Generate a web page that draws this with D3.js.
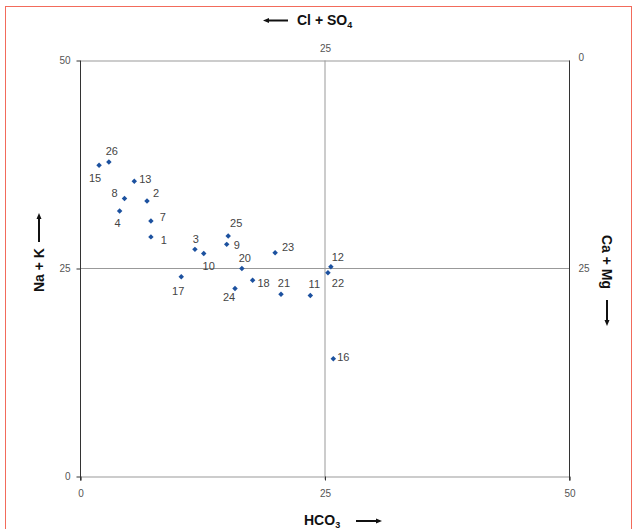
<!DOCTYPE html>
<html>
<head>
<meta charset="utf-8">
<script src="https://cdn.jsdelivr.net/npm/d3@7"></script>
<style>
	body { margin: 0; background: #fff; }
	svg { display: block; font-family: "Liberation Sans", Arial, sans-serif; }
	.axis text { font-size: 10px; fill: #555; }
	.title { font-size: 14px; font-weight: bold; fill: #111; }
	.ptlabel { font-size: 11px; fill: #444; }
</style>
</head>
<body>
<div id="chart"></div>
<script>
// sample numbers and their coordinates (meq %)
const sampleIds = [1, 2, 3, 4, 7, 8, 9, 10, 11, 12, 13, 15, 16, 17, 18, 20, 21, 22, 23, 24, 25, 26];
const hco3 = [7.2, 6.8, 11.7, 4.0, 7.2, 4.5, 14.95, 12.6, 23.5, 25.6, 5.5, 1.9, 25.85, 10.3, 17.6, 16.5, 20.5, 25.3, 19.9, 15.8, 15.1, 2.9];
const naK = [28.8, 33.1, 27.3, 31.9, 30.7, 33.4, 27.9, 26.8, 21.75, 25.2, 35.5, 37.4, 14.15, 24.0, 23.6, 25.0, 21.9, 24.5, 26.9, 22.6, 28.9, 37.8];
const bottomTicks = [0, 25, 50];
const leftTicks = [0, 25, 50];
const topTicks = [25];
const rightTicks = [0, 25];

// where each number sits relative to its point (px)
const labelOffset = {
	1: [13, 3], 2: [9, -8], 3: [1, -10], 4: [-2, 12], 7: [12, -4], 8: [-10, -5],
	9: [10, 1], 10: [5, 13], 11: [4, -11], 12: [7, -10], 13: [11, -2], 15: [-4, 13],
	16: [10, -2], 17: [-3, 14], 18: [11, 3], 20: [3, -10], 21: [3, -11], 22: [10, 10],
	23: [13, -6], 24: [-6, 9], 25: [8, -13], 26: [3, -11]
};

const width = 638, height = 529;
const svg = d3.select("#chart").append("svg")
	.attr("width", width)
	.attr("height", height);

// red frame
svg.append("rect")
	.attr("x", 5.5).attr("y", 6.5)
	.attr("width", 626).attr("height", 540)
	.attr("fill", "none")
	.attr("stroke", "#f26b5b")
	.attr("stroke-width", 1);

const x = d3.scaleLinear().domain([0, 50]).range([80.5, 569.5]);
const y = d3.scaleLinear().domain([0, 50]).range([476.5, 60.5]);
const xTop = d3.scaleLinear().domain([50, 0]).range([80.5, 569.5]);
const yRight = d3.scaleLinear().domain([0, 50]).range([60.5, 476.5]);

// centre cross
svg.append("line")
	.attr("x1", x(25)).attr("x2", x(25))
	.attr("y1", y(50)).attr("y2", y(0) + 3)
	.attr("stroke", "#999");
svg.append("line")
	.attr("x1", x(0)).attr("x2", x(50))
	.attr("y1", y(25)).attr("y2", y(25))
	.attr("stroke", "#999");

// top / bottom frame lines
const bottomAxis = svg.append("g").attr("class", "axis")
	.attr("transform", "translate(0," + y(0) + ")")
	.call(d3.axisBottom(x).tickValues(bottomTicks).tickSize(4).tickPadding(9));
bottomAxis.select(".domain").attr("stroke", "#999");
bottomAxis.selectAll(".tick line").attr("stroke", "#333");

const topAxis = svg.append("g").attr("class", "axis")
	.attr("transform", "translate(0," + y(50) + ")")
	.call(d3.axisTop(xTop).tickValues(topTicks).tickSize(0).tickPadding(9));
topAxis.select(".domain").attr("stroke", "#999");

const leftAxis = svg.append("g").attr("class", "axis")
	.attr("transform", "translate(" + x(0) + ",0)")
	.call(d3.axisLeft(y).tickValues(leftTicks).tickSize(4).tickPadding(6));
leftAxis.select(".domain").attr("stroke", "#333").attr("d", "M0," + y(50) + "V" + (y(0) + 4));
leftAxis.selectAll(".tick line").attr("stroke", "#333");

const rightAxis = svg.append("g").attr("class", "axis")
	.attr("transform", "translate(" + x(50) + ",0)")
	.call(d3.axisRight(yRight).tickValues(rightTicks).tickSize(0).tickPadding(9));
rightAxis.select(".domain").attr("stroke", "#333").attr("d", "M0," + y(50) + "V" + (y(0) + 4));
rightAxis.selectAll(".tick").filter(d => d === 0).select("text").attr("dy", "-0.05em");

svg.selectAll(".axis").attr("font-family", null).attr("font-size", null);

// points
const pts = sampleIds.map((id, i) => ({ id: id, hco3: hco3[i], naK: naK[i] }));
const diamond = d3.symbol().type(d3.symbolSquare).size(15);

svg.append("g").selectAll("path")
	.data(pts)
	.enter().append("path")
	.attr("d", diamond)
	.attr("fill", "#1c519f")
	.attr("transform", d => "translate(" + x(d.hco3) + "," + y(d.naK) + ") rotate(45)");

svg.append("g").selectAll("text")
	.data(pts)
	.enter().append("text")
	.attr("class", "ptlabel")
	.attr("x", d => x(d.hco3) + labelOffset[d.id][0])
	.attr("y", d => y(d.naK) + labelOffset[d.id][1])
	.attr("text-anchor", "middle")
	.attr("dy", "0.35em")
	.text(d => d.id);

// axis titles with arrows
function arrow(g, x1, y1, x2, y2) {
	const a = Math.atan2(y2 - y1, x2 - x1);
	const hl = 6, hw = 2.5;
	g.append("line")
		.attr("x1", x1).attr("y1", y1)
		.attr("x2", x2 - Math.cos(a) * hl).attr("y2", y2 - Math.sin(a) * hl)
		.attr("stroke", "#111").attr("stroke-width", 2);
	const bx = x2 - Math.cos(a) * hl, by = y2 - Math.sin(a) * hl;
	g.append("path")
		.attr("d", "M" + x2 + "," + y2 +
			"L" + (bx - Math.sin(a) * hw) + "," + (by + Math.cos(a) * hw) +
			"L" + (bx + Math.sin(a) * hw) + "," + (by - Math.cos(a) * hw) + "Z")
		.attr("fill", "#111");
}

const titles = svg.append("g");

// top: <- Cl + SO4
arrow(titles, 288, 20.5, 263, 20.5);
const tTop = titles.append("text").attr("class", "title")
	.attr("x", 297).attr("y", 25);
tTop.append("tspan").text("Cl + SO");
tTop.append("tspan").attr("font-size", "9px").attr("dy", 3).text("4");

// bottom: HCO3 ->
const tBot = titles.append("text").attr("class", "title")
	.attr("x", 304).attr("y", 525);
tBot.append("tspan").text("HCO");
tBot.append("tspan").attr("font-size", "9px").attr("dy", 3).text("3");
arrow(titles, 356, 521, 382, 521);

// left: Na + K ->
titles.append("text").attr("class", "title")
	.attr("transform", "translate(44,292) rotate(-90)")
	.text("Na + K");
arrow(titles, 39, 242, 39, 213);

// right: Ca + Mg ->
titles.append("text").attr("class", "title")
	.attr("transform", "translate(602,235) rotate(90)")
	.text("Ca + Mg");
arrow(titles, 607, 300, 607, 326);
</script>
</body>
</html>
